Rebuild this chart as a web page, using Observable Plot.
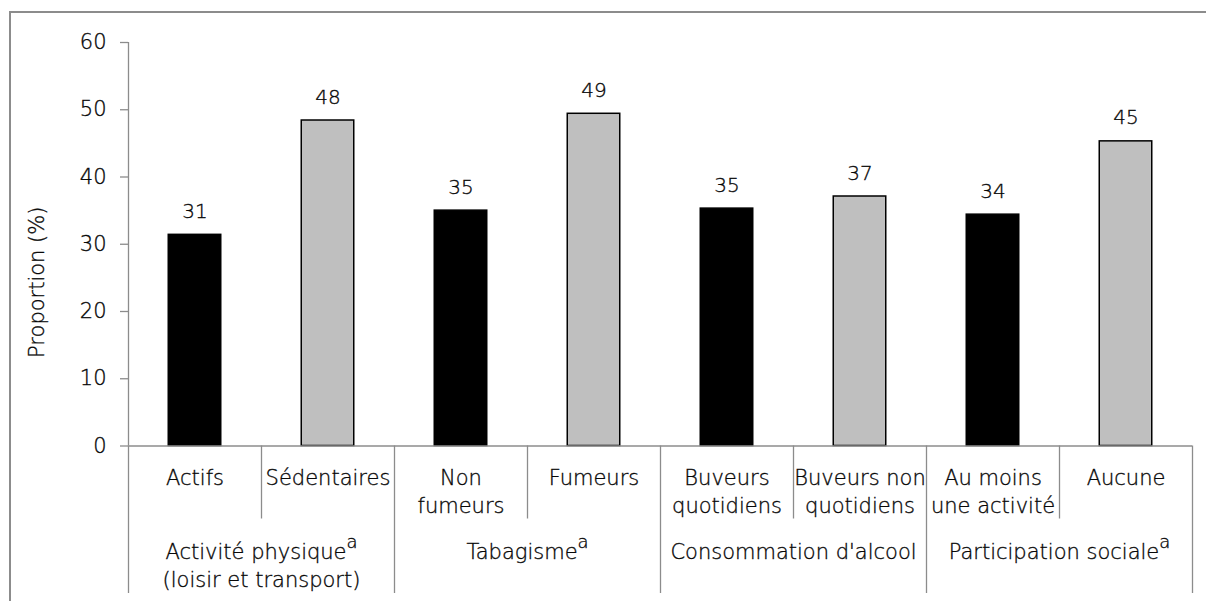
<!DOCTYPE html>
<html><head><meta charset="utf-8">
<script src="https://cdn.jsdelivr.net/npm/d3@7"></script>
<script src="https://cdn.jsdelivr.net/npm/@observablehq/plot@0.6"></script>
<style>
html,body{margin:0;padding:0;background:#fff;overflow:hidden;}
#wrap{position:relative;width:1206px;height:601px;}
#frame{position:absolute;left:9px;top:11px;width:1300px;height:700px;border:2px solid #8c8c8c;box-sizing:border-box;pointer-events:none;}
#chart svg text{font-weight:200;stroke:#111;stroke-width:0.35px;}
</style></head><body>
<div id="wrap"><div id="chart"></div><div id="frame"></div></div>
<script>
// ---- data ----
const categories = ["Actifs", "Sédentaires", "Non\nfumeurs", "Fumeurs", "Buveurs\nquotidiens", "Buveurs non\nquotidiens", "Au moins\nune activité", "Aucune"];
const values = [31.4, 48.4, 35.0, 49.4, 35.3, 37.1, 34.4, 45.3];
const valueLabels = ["31", "48", "35", "49", "35", "37", "34", "45"];
const kinds = ["favorable", "défavorable", "favorable", "défavorable", "favorable", "défavorable", "favorable", "défavorable"];
const groups = ["Activité physique^a\n(loisir et transport)", "Tabagisme^a", "Consommation d'alcool", "Participation sociale^a"];
const groupSizes = [2, 2, 2, 2];
const yTicks = [0, 10, 20, 30, 40, 50, 60];
const yLabel = "Proportion (%)";

// ---- derived tables ----
const rows = categories.map((c, i) => ({cat: c, value: values[i], label: valueLabels[i], kind: kinds[i], i}));
const groupStarts = groupSizes.map((s, k) => d3.sum(groupSizes.slice(0, k)));
const groupRows = groups.map((g, k) => ({name: g, center: groupStarts[k] + groupSizes[k] / 2}));
const groupBounds = [...groupStarts, d3.sum(groupSizes)];
const innerBounds = d3.range(1, categories.length).filter(b => !groupBounds.includes(b));

const grey = "#8c8c8c";
const ink = "#000";
const font = 21;
const lh = 28 / 21;

const plot = Plot.plot({
  width: 1206,
  height: 601,
  marginLeft: 128,
  marginRight: 14,
  marginTop: 42,
  marginBottom: 155.5,
  style: {fontFamily: "'DejaVu Sans', 'Liberation Sans', sans-serif", fontSize: "21px", color: ink, background: "transparent"},
  x: {domain: [0, categories.length]},
  y: {domain: [0, 60]},
  color: {domain: ["favorable", "défavorable"], range: ["#000000", "#bfbfbf"]},
  marks: [
    Plot.rectY(rows, {x1: d => d.i, x2: d => d.i + 1, y: "value", fill: "kind", stroke: "#000", strokeWidth: 1.5, insetLeft: 40.25, insetRight: 40.25}),
    Plot.text(rows, {x: d => d.i + 0.5, y: "value", text: "label", dy: -17, lineAnchor: "bottom", fontSize: 20, fill: ink}),
    Plot.ruleX([0], {stroke: grey, strokeWidth: 1.3}),
    Plot.ruleY([0], {stroke: grey, strokeWidth: 1.3}),
    Plot.axisY(yTicks, {tickSize: 8, tickPadding: 14, fontSize: font, stroke: grey, strokeWidth: 1.3, fill: ink, label: null}),
    Plot.axisX(innerBounds, {tickSize: 73, tickFormat: () => "", stroke: grey, strokeWidth: 1.3, label: null}),
    Plot.axisX(groupBounds, {tickSize: 147.5, tickFormat: () => "", stroke: grey, strokeWidth: 1.3, label: null}),
    Plot.text(rows, {x: d => d.i + 0.5, text: "cat", frameAnchor: "bottom", textAnchor: "middle", lineAnchor: "top", dy: 19.6, lineHeight: lh, fontSize: font, fill: ink}),
    Plot.text(groupRows, {x: "center", text: "name", frameAnchor: "bottom", textAnchor: "middle", lineAnchor: "top", dy: 93.6, lineHeight: lh, fontSize: font, fill: ink}),
    Plot.text([yLabel], {text: d => d, frameAnchor: "left", textAnchor: "middle", lineAnchor: "middle", rotate: -90, dx: -91.5, dy: 38, fontSize: font, fill: ink})
  ]
});

// superscript "a" markers
const ns = "http://www.w3.org/2000/svg";
plot.querySelectorAll("text, tspan").forEach(el => {
  if (el.childNodes.length === 1 && el.firstChild.nodeType === 3 && el.textContent.includes("^a")) {
    const base = el.textContent.replace("^a", "");
    el.textContent = base;
    const sup = document.createElementNS(ns, "tspan");
    sup.setAttribute("baseline-shift", "11px");
    sup.setAttribute("font-size", "18px");
    sup.textContent = "a";
    el.appendChild(sup);
  }
});

document.getElementById("chart").appendChild(plot);
</script>
</body></html>
